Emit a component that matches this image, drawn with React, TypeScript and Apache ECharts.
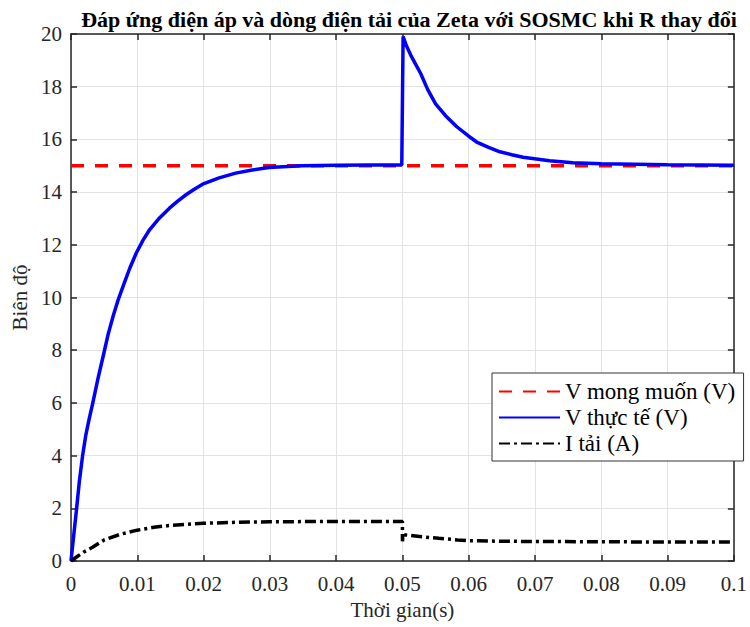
import React, { useEffect, useRef } from "react";
import * as echarts from "echarts";

const titleText = "Đáp ứng điện áp và dòng điện tải của Zeta với SOSMC khi R thay đổi";
const xName = "Thời gian(s)";
const yName = "Biên độ";
const seriesNames = ["V mong muốn (V)", "V thực tế (V)", "I tải (A)"];

const refTime = [0, 0.1];
const refValue = [15, 15];

const vTime = [
  0, 0.0004, 0.00085, 0.00125, 0.00175, 0.00225, 0.00275, 0.00325, 0.00405, 0.00485, 0.0056, 0.00635,
  0.0071, 0.00785, 0.00885, 0.00985, 0.01085, 0.01185, 0.01335, 0.01485, 0.0161, 0.01735, 0.0186,
  0.01985, 0.02235, 0.02485, 0.02735, 0.02985, 0.03485, 0.04, 0.045, 0.0499,
  0.0501, 0.0506, 0.05125, 0.052, 0.05275, 0.0538, 0.055, 0.0565, 0.0582, 0.06, 0.0612, 0.063,
  0.0647, 0.0665, 0.0682, 0.0722, 0.0757, 0.08, 0.085, 0.09, 0.095, 0.1,
];
const vValue = [
  0, 0.95, 2, 3.0, 4, 4.8, 5.4, 5.95, 6.9, 7.77, 8.6, 9.29,
  9.9, 10.42, 11.1, 11.69, 12.17, 12.57, 13.02, 13.39, 13.66, 13.9, 14.11,
  14.3, 14.54, 14.72, 14.84, 14.93, 15.0, 15.02, 15.03, 15.03,
  19.9, 19.55, 19.2, 18.85, 18.5, 17.9, 17.35, 16.9, 16.48, 16.12, 15.9, 15.7,
  15.53, 15.42, 15.32, 15.19, 15.11, 15.08, 15.06, 15.04, 15.03, 15.02,
];

const iTime = [
  0, 0.001, 0.002, 0.00325, 0.005, 0.0075, 0.01, 0.0125, 0.015, 0.02, 0.025, 0.03, 0.04, 0.05,
  0.05, 0.0501, 0.0529, 0.0555, 0.0583, 0.06, 0.065, 0.07, 0.08, 0.09, 0.1,
];
const iValue = [
  0, 0.18, 0.35, 0.52, 0.8, 1.02, 1.17, 1.28, 1.35, 1.43, 1.47, 1.49, 1.5, 1.5,
  0.75, 1.0, 0.92, 0.86, 0.8, 0.77, 0.75, 0.74, 0.73, 0.72, 0.72,
];

const xTicks = { min: 0, max: 0.1, interval: 0.01 };
const yTicks = { min: 0, max: 20, interval: 2 };

const pairs = (xs: number[], ys: number[]) => xs.map((x, k) => [x, ys[k]]);

const FONT = "'Liberation Serif', 'Times New Roman', serif";
const AXIS_COLOR = "#262626";

export default function App() {
  const ref = useRef<HTMLDivElement>(null);
  useEffect(() => {
    if (!ref.current) return;
    const chart = echarts.init(ref.current, undefined, { renderer: "svg" });
    const fmtX = (v: number) => String(+v.toFixed(2));
    const baseX = {
      type: "value" as const,
      min: xTicks.min,
      max: xTicks.max,
      interval: xTicks.interval,
      axisLine: { show: true, onZero: false, lineStyle: { color: AXIS_COLOR, width: 1.5 } },
      axisTick: { show: true, inside: true, length: 6, lineStyle: { color: AXIS_COLOR, width: 1.5 } },
    };
    const baseY = {
      type: "value" as const,
      min: yTicks.min,
      max: yTicks.max,
      interval: yTicks.interval,
      axisLine: { show: true, onZero: false, lineStyle: { color: AXIS_COLOR, width: 1.5 } },
      axisTick: { show: true, inside: true, length: 6, lineStyle: { color: AXIS_COLOR, width: 1.5 } },
    };
    chart.setOption({
      animation: false,
      backgroundColor: "#ffffff",
      textStyle: { fontFamily: FONT },
      title: {
        text: titleText,
        left: 404,
        textAlign: "center",
        top: 3,
        textStyle: { fontFamily: FONT, fontWeight: "bold", fontSize: 22, color: "#000" },
      },
      grid: { left: 71, right: 11, top: 34, bottom: 66, containLabel: false },
      legend: {
        data: seriesNames,
        orient: "vertical",
        left: 492,
        top: 373,
        itemWidth: 61,
        itemHeight: 20,
        itemGap: 3,
        padding: [7, 8, 6, 6],
        borderColor: "#333",
        borderWidth: 1,
        backgroundColor: "#fff",
        itemStyle: { opacity: 0 },
        textStyle: { fontFamily: FONT, fontSize: 23, lineHeight: 23, color: "#000" },
      },
      xAxis: [
        {
          ...baseX,
          position: "bottom",
          name: xName,
          nameLocation: "middle",
          nameGap: 38,
          nameTextStyle: { fontFamily: FONT, fontSize: 21, color: AXIS_COLOR },
          axisLabel: { formatter: fmtX, fontFamily: FONT, fontSize: 21, color: AXIS_COLOR, margin: 12 },
          splitLine: { show: true, lineStyle: { color: "#e3e3e3", width: 1 } },
        },
        {
          ...baseX,
          position: "top",
          axisLabel: { show: false },
          splitLine: { show: false },
        },
      ],
      yAxis: [
        {
          ...baseY,
          position: "left",
          name: yName,
          nameLocation: "middle",
          nameGap: 40,
          nameTextStyle: { fontFamily: FONT, fontSize: 21, color: AXIS_COLOR },
          axisLabel: { fontFamily: FONT, fontSize: 21, color: AXIS_COLOR, margin: 9 },
          splitLine: { show: true, lineStyle: { color: "#e3e3e3", width: 1 } },
        },
        {
          ...baseY,
          position: "right",
          axisLabel: { show: false },
          splitLine: { show: false },
        },
      ],
      series: [
        {
          name: seriesNames[0],
          type: "line",
          data: pairs(refTime, refValue),
          symbol: "none",
          lineStyle: { color: "#ff0000", width: 3.5, type: [13, 11] },
          itemStyle: { color: "#ff0000" },
        },
        {
          name: seriesNames[1],
          type: "line",
          data: pairs(vTime, vValue),
          symbol: "none",
          lineStyle: { color: "#0000ff", width: 3.5 },
          itemStyle: { color: "#0000ff" },
        },
        {
          name: seriesNames[2],
          type: "line",
          data: pairs(iTime, iValue),
          symbol: "none",
          lineStyle: { color: "#000000", width: 3.5, type: [11, 4, 3, 4] },
          itemStyle: { color: "#000000" },
        },
      ],
    });
    return () => chart.dispose();
  }, []);
  return (
    <div
      ref={ref}
      style={{ position: "fixed", left: 0, top: 0, width: 750, height: 627, background: "#fff" }}
    />
  );
}
